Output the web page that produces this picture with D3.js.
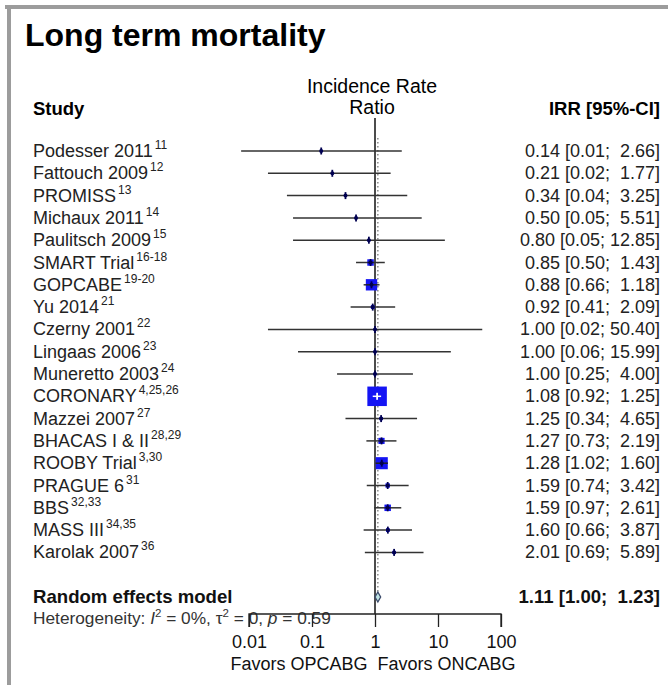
<!DOCTYPE html>
<html>
<head>
<meta charset="utf-8">
<script src="https://cdn.jsdelivr.net/npm/d3@7"></script>
<style>
  body { margin: 0; background: #fff; }
  svg { display: block; font-family: "Liberation Sans", Arial, sans-serif; }
  text { white-space: pre; }
</style>
</head>
<body>
<svg id="chart" width="668" height="685"></svg>
<script>
// study labels and their reference superscripts
const studies = ["Podesser 2011", "Fattouch 2009", "PROMISS", "Michaux 2011", "Paulitsch 2009",
  "SMART Trial", "GOPCABE", "Yu 2014", "Czerny 2001", "Lingaas 2006", "Muneretto 2003",
  "CORONARY", "Mazzei 2007", "BHACAS I & II", "ROOBY Trial", "PRAGUE 6", "BBS", "MASS III", "Karolak 2007"];
const refs = ["11", "12", "13", "14", "15", "16-18", "19-20", "21", "22", "23", "24",
  "4,25,26", "27", "28,29", "3,30", "31", "32,33", "34,35", "36"];

const irr   = [0.14, 0.21, 0.34, 0.50, 0.80, 0.85, 0.88, 0.92, 1.00, 1.00, 1.00, 1.08, 1.25, 1.27, 1.28, 1.59, 1.59, 1.60, 2.01];
const lower = [0.0075, 0.02, 0.04, 0.05, 0.05, 0.50, 0.66, 0.41, 0.02, 0.06, 0.25, 0.92, 0.34, 0.73, 1.02, 0.74, 0.97, 0.66, 0.69];
const upper = [2.66, 1.77, 3.25, 5.51, 12.85, 1.43, 1.18, 2.09, 50.40, 15.99, 4.00, 1.25, 4.65, 2.19, 1.60, 3.42, 2.61, 3.87, 5.89];
// weights (%)
const weights = [0.3, 0.3, 0.4, 0.4, 0.3, 4.6, 14.1, 1.5, 0.1, 0.3, 0.8, 41.6, 1.2, 4.1, 16, 2.1, 4.6, 1.5, 1.2];

const pooled = [1.11, 1.00, 1.23];
const tickValues = [0.01, 0.1, 1, 10, 100];

const FS = 18;
const svg = d3.select("#chart");

// grey frame on top and left
svg.append("rect").attr("x", 5).attr("y", 5).attr("width", 663).attr("height", 4).attr("fill", "#9c9c9c");
svg.append("rect").attr("x", 7).attr("y", 5).attr("width", 4).attr("height", 680).attr("fill", "#9c9c9c");

svg.append("text").attr("x", 25).attr("y", 46)
  .attr("font-size", 32).attr("font-weight", "bold").attr("fill", "#000")
  .text("Long term mortality");

const x = d3.scaleLog().domain([0.01, 100]).range([249, 501]);
const y = d3.scaleLinear().domain([0, 20]).range([151, 597]);
const side = d3.scaleSqrt().domain([0, d3.max(weights)]).range([0, 19.5]);

// headers
svg.append("text").attr("x", 33).attr("y", 115).attr("font-size", 18.5).attr("font-weight", "bold").text("Study");
svg.append("text").attr("x", x(1) - 3).attr("y", 93).attr("font-size", 19.5).attr("text-anchor", "middle").text("Incidence Rate");
svg.append("text").attr("x", x(1) - 3).attr("y", 114).attr("font-size", 19.5).attr("text-anchor", "middle").text("Ratio");
svg.append("text").attr("x", 660).attr("y", 115).attr("font-size", 18.5).attr("font-weight", "bold")
  .attr("text-anchor", "end").text("IRR [95%-CI]");

// reference line at 1 and dotted line at pooled estimate
svg.append("line").attr("x1", x(1)).attr("x2", x(1)).attr("y1", 118).attr("y2", 614)
  .attr("stroke", "#111").attr("stroke-width", 1.5);
svg.append("line").attr("x1", x(pooled[0])).attr("x2", x(pooled[0])).attr("y1", 138).attr("y2", 593)
  .attr("stroke", "#777").attr("stroke-width", 1.3).attr("stroke-dasharray", "1.5,2.5");

const fmt = (v) => v.toFixed(2);
const ciLabel = (e, l, u) => `${fmt(e)} [${fmt(l)}; ${fmt(u).padStart(5)}]`;

const rows = svg.selectAll("g.row").data(studies).join("g").attr("class", "row");

rows.each(function (d, i) {
  const g = d3.select(this);
  const cy = y(i);
  const s = Math.max(side(weights[i]), 2.5);
  const inside = x(lower[i]) > x(irr[i]) - s / 2 && x(upper[i]) < x(irr[i]) + s / 2;
  const lineCol = inside ? "#fff" : "#222";

  const t = g.append("text").attr("x", 33).attr("y", cy + 6).attr("font-size", FS).attr("fill", "#222");
  t.append("tspan").text(d);
  t.append("tspan").attr("font-size", 12).attr("dx", 2).attr("dy", -8).text(refs[i]);

  g.append("line").attr("x1", x(lower[i])).attr("x2", x(upper[i])).attr("y1", cy).attr("y2", cy)
    .attr("stroke", "#333").attr("stroke-width", 1.5);
  g.append("rect").attr("x", x(irr[i]) - s / 2).attr("y", cy - s / 2).attr("width", s).attr("height", s)
    .attr("fill", "#1414f4");
  g.append("line").attr("x1", Math.max(x(lower[i]), x(irr[i]) - s / 2)).attr("x2", Math.min(x(upper[i]), x(irr[i]) + s / 2))
    .attr("y1", cy).attr("y2", cy).attr("stroke", lineCol).attr("stroke-width", 1.5);
  g.append("line").attr("x1", x(irr[i])).attr("x2", x(irr[i])).attr("y1", cy - 3.5).attr("y2", cy + 3.5)
    .attr("stroke", inside ? "#fff" : "#000050").attr("stroke-width", 1.8);
  if (!inside) g.append("circle").attr("cx", x(irr[i])).attr("cy", cy).attr("r", 2).attr("fill", "#000050");

  g.append("text").attr("x", 660).attr("y", cy + 6).attr("font-size", FS).attr("fill", "#222")
    .attr("text-anchor", "end").text(ciLabel(irr[i], lower[i], upper[i]));
});

// pooled row
const py = y(20);
svg.append("text").attr("x", 33).attr("y", py + 6).attr("font-size", 18.6).attr("font-weight", "bold")
  .attr("fill", "#111").text("Random effects model");
svg.append("text").attr("x", 660).attr("y", py + 6).attr("font-size", 18.6).attr("font-weight", "bold")
  .attr("fill", "#111").attr("text-anchor", "end").text(ciLabel(pooled[0], pooled[1], pooled[2]));
svg.append("path")
  .attr("d", `M${x(pooled[1])},${py} L${x(pooled[0])},${py - 5} L${x(pooled[2])},${py} L${x(pooled[0])},${py + 5} Z`)
  .attr("fill", "#bfe3e3").attr("stroke", "#3a4a6a").attr("stroke-width", 1.3);

// heterogeneity
const het = svg.append("text").attr("x", 33).attr("y", 624).attr("font-size", 17.3).attr("fill", "#333");
het.append("tspan").text("Heterogeneity: ");
het.append("tspan").attr("font-style", "italic").text("I");
het.append("tspan").attr("font-size", 11.5).attr("dy", -7).text("2");
het.append("tspan").attr("dy", 7).text(" = 0%, \u03c4");
het.append("tspan").attr("font-size", 11.5).attr("dy", -7).text("2");
het.append("tspan").attr("dy", 7).text(" = 0, ");
het.append("tspan").attr("font-style", "italic").text("p");
het.append("tspan").text(" = 0.59");

// axis
const axis = d3.axisBottom(x).tickValues(tickValues).tickSize(13).tickPadding(8)
  .tickFormat((d) => d3.format("~g")(d));
const ag = svg.append("g").attr("transform", "translate(0,614)").call(axis);
ag.selectAll("path, line").attr("stroke", "#222").attr("stroke-width", 1.3);
ag.select(".domain").attr("d", `M${x(0.01)},13V0H${x(100)}V13`);
ag.selectAll("text").attr("font-size", FS).attr("fill", "#111")
  .attr("font-family", "Liberation Sans, Arial, sans-serif");

svg.append("text").attr("x", x(1) - 2).attr("y", 670).attr("font-size", FS).attr("fill", "#111")
  .attr("text-anchor", "middle").text("Favors OPCABG  Favors ONCABG");
</script>
</body>
</html>
